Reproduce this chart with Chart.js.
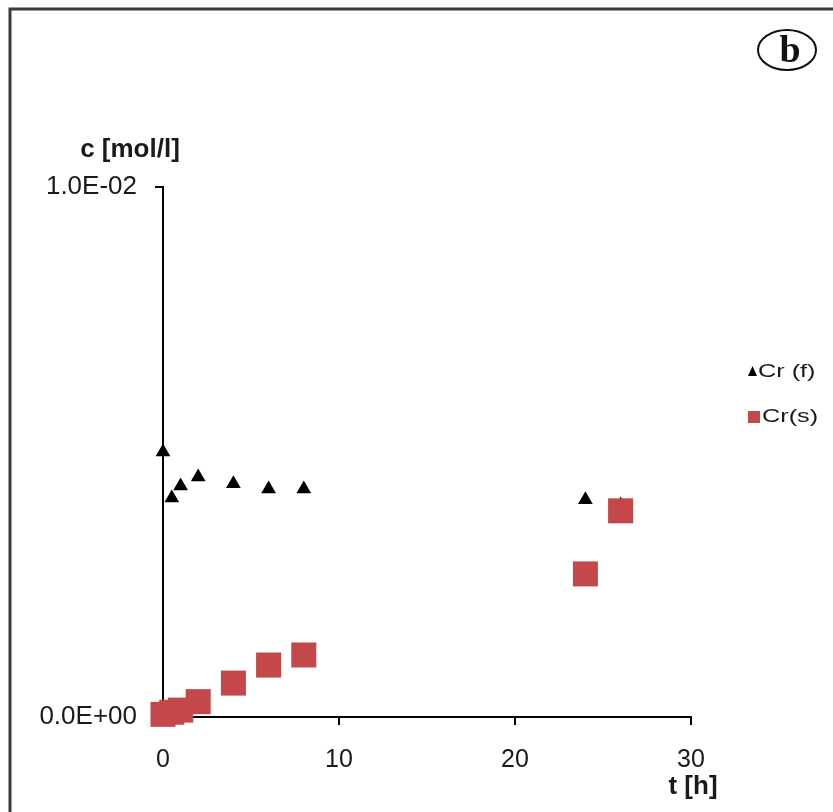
<!DOCTYPE html>
<html>
<head>
<meta charset="utf-8">
<title>Cr (f) / Cr(s)</title>
<script src="https://cdn.jsdelivr.net/npm/chart.js@4/dist/chart.umd.min.js"></script>
<style>
  html, body { margin: 0; padding: 0; background: #fff; }
  #wrap { width: 833px; height: 812px; position: relative; }
</style>
</head>
<body>
<div id="wrap"><canvas id="chart" width="833" height="812"></canvas></div>
<script>
// Sampling times [h]
const timesF = [0, 0.5, 1, 2, 4, 6, 8, 24, 26];
const timesS = [0, 0.5, 1, 2, 4, 6, 8, 24, 26];
// Concentrations [mol/l]
const crF = [0.0050, 0.00413, 0.00436, 0.00453, 0.00440, 0.00430, 0.00430, 0.00410, 0.00400];
const crS = [0.00005, 0.00009, 0.00013, 0.00029, 0.00064, 0.00098, 0.00117, 0.00270, 0.00389];
// Series names and axis ticks
const seriesNames = ['Cr (f)', 'Cr(s)'];
const xTicks = [0, 10, 20, 30];
const yTicks = [0, 0.01];
const xTitle = 't [h]';
const yTitle = 'c [mol/l]';
const panelLabel = 'b';

const SANS = '"Liberation Sans", Arial, sans-serif';
const SERIF = '"Liberation Serif", "Times New Roman", serif';
const colorF = '#000000';
const colorS = '#C4484A';

function toPoints(xs, ys) {
  return xs.map((x, i) => ({ x: x, y: ys[i] }));
}

// Excel-style scientific notation: 1.0E-02
function sciLabel(v) {
  const parts = Number(v).toExponential(1).split('e');
  const e = parseInt(parts[1], 10);
  return parts[0] + 'E' + (e < 0 ? '-' : '+') + String(Math.abs(e)).padStart(2, '0');
}

// Frame, axis titles, panel badge and legend
const decorations = {
  id: 'decorations',
  beforeDraw(chart) {
    const ctx = chart.ctx;
    ctx.save();
    ctx.fillStyle = '#ffffff';
    ctx.fillRect(0, 0, chart.width, chart.height);
    ctx.strokeStyle = '#3a3a3a';
    ctx.lineWidth = 3;
    ctx.beginPath();
    ctx.moveTo(10, chart.height);
    ctx.lineTo(10, 9);
    ctx.lineTo(chart.width, 9);
    ctx.stroke();
    ctx.restore();
  },
  afterDraw(chart) {
    const ctx = chart.ctx;
    const area = chart.chartArea;
    ctx.save();
    ctx.fillStyle = '#1a1a1a';
    ctx.textAlign = 'center';
    ctx.textBaseline = 'middle';
    ctx.font = 'bold 26px ' + SANS;
    ctx.fillText(yTitle, area.left - 33, area.top - 37);
    ctx.fillText(xTitle, area.right + 2, area.bottom + 70);

    // panel badge
    ctx.lineWidth = 2;
    ctx.strokeStyle = '#111';
    ctx.beginPath();
    ctx.ellipse(787, 50, 29, 20, 0, 0, Math.PI * 2);
    ctx.stroke();
    ctx.font = 'bold 38px ' + SERIF;
    ctx.textBaseline = 'alphabetic';
    ctx.fillStyle = '#111';
    ctx.fillText(panelLabel, 790, 62);

    // legend
    const lx = 748;
    const rows = [372, 417];
    ctx.textAlign = 'left';
    ctx.textBaseline = 'middle';
    ctx.font = '19px ' + SANS;
    // triangle marker
    ctx.fillStyle = colorF;
    ctx.beginPath();
    ctx.moveTo(lx + 4.5, rows[0] - 6);
    ctx.lineTo(lx + 9, rows[0] + 4);
    ctx.lineTo(lx, rows[0] + 4);
    ctx.closePath();
    ctx.fill();
    // square marker
    ctx.fillStyle = colorS;
    ctx.fillRect(lx, rows[1] - 6, 12, 12);
    ctx.fillStyle = '#1a1a1a';
    seriesNames.forEach((name, i) => {
      ctx.save();
      ctx.translate(lx + (i === 0 ? 10 : 14), rows[i]);
      ctx.scale(1.33, 1);
      ctx.fillText(name, 0, 0);
      ctx.restore();
    });
    ctx.restore();
  }
};

new Chart(document.getElementById('chart'), {
  type: 'scatter',
  data: {
    datasets: [
      {
        label: seriesNames[0],
        data: toPoints(timesF, crF),
        pointStyle: 'triangle',
        pointRadius: 8.5,
        pointHoverRadius: 8.5,
        backgroundColor: colorF,
        borderColor: colorF,
        borderWidth: 0,
        clip: false,
        order: 2
      },
      {
        label: seriesNames[1],
        data: toPoints(timesS, crS),
        pointStyle: 'rect',
        pointRadius: 17.7,
        pointHoverRadius: 17.7,
        backgroundColor: colorS,
        borderColor: colorS,
        borderWidth: 0,
        clip: false,
        order: 1
      }
    ]
  },
  options: {
    responsive: false,
    animation: false,
    events: [],
    layout: { padding: { top: 187, right: 142, bottom: 0, left: 0 } },
    plugins: {
      legend: { display: false },
      tooltip: { enabled: false },
      title: { display: false }
    },
    scales: {
      x: {
        type: 'linear',
        min: 0,
        max: 30,
        afterBuildTicks: s => { s.ticks = xTicks.map(v => ({ value: v })); },
        afterFit: s => { s.height = 95; },
        ticks: {
          color: '#1a1a1a',
          font: { family: SANS, size: 25 },
          padding: 20,
          maxRotation: 0
        },
        grid: { drawOnChartArea: false, drawTicks: true, tickLength: 8, color: '#000', lineWidth: 2 },
        border: { display: true, color: '#000', width: 2 }
      },
      y: {
        type: 'linear',
        min: 0,
        max: 0.01,
        afterBuildTicks: s => { s.ticks = yTicks.map(v => ({ value: v })); },
        afterFit: s => { s.width = 163; },
        ticks: {
          color: '#1a1a1a',
          font: { family: SANS, size: 26 },
          padding: 18,
          callback: v => sciLabel(v)
        },
        grid: { drawOnChartArea: false, drawTicks: true, tickLength: 8, color: '#000', lineWidth: 2 },
        border: { display: true, color: '#000', width: 2 }
      }
    }
  },
  plugins: [decorations]
});
</script>
</body>
</html>
